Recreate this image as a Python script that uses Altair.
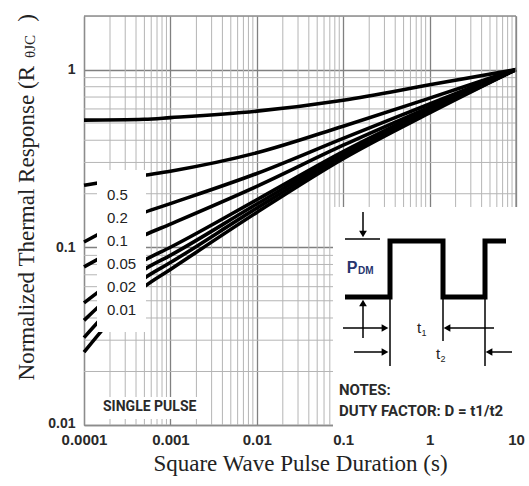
import altair as alt
import pandas as pd

# ---------------- data ----------------
durations = [0.0001, 0.0005, 0.001, 0.01, 0.1, 1, 10]
resp_top = [0.519, 0.525, 0.536, 0.583, 0.672, 0.82, 1.0]
resp_d02 = [0.223, 0.254, 0.268, 0.34, 0.48, 0.69, 1.0]
resp_d01 = [0.107, 0.157, 0.176, 0.26, 0.41, 0.64, 1.0]
resp_d005 = [0.0775, 0.117, 0.135, 0.22, 0.375, 0.614, 1.0]
resp_d002 = [0.0486, 0.0845, 0.1, 0.185, 0.345, 0.6, 1.0]
resp_d001 = [0.0388, 0.075, 0.09, 0.175, 0.335, 0.59, 1.0]
resp_d0005 = [0.031, 0.067, 0.082, 0.166, 0.325, 0.58, 1.0]
resp_single = [0.0257, 0.06, 0.075, 0.157, 0.315, 0.57, 1.0]

series = {
    "c1": resp_top, "c2": resp_d02, "c3": resp_d01, "c4": resp_d005,
    "c5": resp_d002, "c6": resp_d001, "c7": resp_d0005, "c8": resp_single,
}
duty_labels = ["0.5", "0.2", "0.1", "0.05", "0.02", "0.01"]
x_ticks = [0.0001, 0.001, 0.01, 0.1, 1, 10]
y_ticks = [0.01, 0.1, 1]
decades_x = [0.0001, 0.001, 0.01, 0.1, 1]
decades_y = [0.01, 0.1]
minor_x = [m * d for d in decades_x for m in range(2, 10)]
minor_y = [m * d for d in decades_y for m in range(2, 10)]

# ---------------- layout ----------------
W, H = 432, 409
OX, OY = 84, 16
FRAME = "#8c8c8c"
NOTE_FONT = "Roboto"

rows = [dict(series=k, t=t, r=v) for k, vals in series.items() for t, v in zip(durations, vals)]
df = pd.DataFrame(rows)

xs = alt.Scale(type="log", domain=[0.0001, 10], nice=False)
ys = alt.Scale(type="log", domain=[0.01, 2], nice=False)


def P(col):
    return alt.X(col + ":Q", scale=None, axis=None)


def PY(col):
    return alt.Y(col + ":Q", scale=None, axis=None)


def absdf(records, xcols=("x", "x2"), ycols=("y", "y2")):
    d = pd.DataFrame(records)
    for c in xcols:
        if c in d:
            d[c] = d[c] - OX
    for c in ycols:
        if c in d:
            d[c] = d[c] - OY
    return d


# minor grid
gx = alt.Chart(pd.DataFrame({"t": minor_x})).mark_rule(color="#b5b5b5", strokeWidth=1).encode(
    x=alt.X("t:Q", scale=xs))
gy = alt.Chart(pd.DataFrame({"r": minor_y})).mark_rule(color="#b5b5b5", strokeWidth=1).encode(
    y=alt.Y("r:Q", scale=ys))

# frame (top and right)
frame = alt.Chart(pd.DataFrame([
    dict(x=0, y=0, x2=W, y2=0), dict(x=W, y=0, x2=W, y2=H)])).mark_rule(
    color=FRAME, strokeWidth=1.3).encode(x=P("x"), y=PY("y"), x2="x2:Q", y2="y2:Q")

lines = alt.Chart(df).mark_line(color="black", strokeWidth=3.6, interpolate="monotone").encode(
    x=alt.X("t:Q", scale=xs, axis=alt.Axis(
        values=x_ticks, format="~g", title="Square Wave Pulse Duration (s)",
        titleFont="Liberation Serif", titleFontSize=23, titleFontWeight="normal",
        titleColor="#222", titleBaseline="alphabetic", titleX=W / 2, titleY=45,
        labelFont="Liberation Sans", labelFontWeight="bold", labelFontSize=15,
        labelColor="#2a2a2a", labelPadding=7, labelFlush=False, ticks=False,
        domainColor=FRAME, domainWidth=1.3, grid=True, gridColor="#808080", gridWidth=1.3)),
    y=alt.Y("r:Q", scale=ys, axis=alt.Axis(
        values=y_ticks, format="~g", title=None,
        labelFont="Liberation Sans", labelFontWeight="bold", labelFontSize=14,
        labelColor="#2a2a2a", labelPadding=9, labelFlush=False, ticks=False,
        domainColor=FRAME, domainWidth=1.3, grid=True, gridColor="#808080", gridWidth=1.3,
        labelOffset={"condition": {"test": "datum.value < 0.02", "value": -2}, "value": 0})),
    detail="series:N",
)

# white boxes (label box, single-pulse box, inset)
boxes = alt.Chart(absdf([
    dict(x=97, y=170, x2=146, y2=332),
    dict(x=98, y=397, x2=205, y2=419),
    dict(x=333, y=207, x2=528, y2=428),
])).mark_rect(color="white").encode(x=P("x"), y=PY("y"), x2="x2:Q", y2="y2:Q")

# curve labels
lab_df = pd.DataFrame({"label": duty_labels})
lab_df["x"] = 107 - OX
lab_df["y"] = [195 - OY + 23 * i for i in range(len(duty_labels))]
labels = alt.Chart(lab_df).mark_text(
    font="Liberation Sans", fontSize=15, color="#222", align="left", baseline="middle").encode(
    x=P("x"), y=PY("y"), text="label:N")

single = alt.Chart(absdf([dict(x=103, y=407, s="SINGLE PULSE")])).mark_text(
    font=NOTE_FONT, fontWeight="bold", fontSize=14, color="#2a2a2a",
    align="left", baseline="middle").encode(x=P("x"), y=PY("y"), text="s:N")

notes = alt.Chart(absdf([dict(x=339, y=390, s="NOTES:"),
                         dict(x=339, y=411, s="DUTY FACTOR: D = t1/t2")])).mark_text(
    font=NOTE_FONT, fontWeight="bold", fontSize=15, color="#2a2a2a",
    align="left", baseline="middle").encode(x=P("x"), y=PY("y"), text="s:N")

# pulse waveform
pulse = alt.Chart(absdf([
    dict(x=345, y=297, o=0), dict(x=390, y=297, o=1), dict(x=390, y=241, o=2),
    dict(x=443, y=241, o=3), dict(x=443, y=297, o=4), dict(x=485, y=297, o=5),
    dict(x=485, y=241, o=6), dict(x=506, y=241, o=7)])).mark_line(
    color="black", strokeWidth=5, strokeJoin="miter").encode(
    x=P("x"), y=PY("y"), order="o:Q")

segs = alt.Chart(absdf([
    dict(x=345, y=239, x2=380, y2=239),
    dict(x=363, y=212, x2=363, y2=231),
    dict(x=363, y=306, x2=363, y2=338),
    dict(x=390, y=297, x2=390, y2=366),
    dict(x=443, y=297, x2=443, y2=341),
    dict(x=485, y=297, x2=485, y2=366),
    dict(x=343, y=328, x2=382, y2=328),
    dict(x=449, y=328, x2=494, y2=328),
    dict(x=354, y=352, x2=382, y2=352),
    dict(x=491, y=352, x2=512, y2=352),
])).mark_rule(color="black", strokeWidth=1.5).encode(x=P("x"), y=PY("y"), x2="x2:Q", y2="y2:Q")

heads = alt.Chart(absdf([
    dict(x=363, y=234, s="triangle-down"),
    dict(x=363, y=303, s="triangle-up"),
    dict(x=385, y=328, s="triangle-right"),
    dict(x=447, y=328, s="triangle-left"),
    dict(x=385, y=352, s="triangle-right"),
    dict(x=489, y=352, s="triangle-left"),
])).mark_point(filled=True, color="black", size=60, opacity=1).encode(
    x=P("x"), y=PY("y"), shape=alt.Shape("s:N", scale=None))

pdm_p = alt.Chart(absdf([dict(x=352, y=268, s="P")])).mark_text(
    font="Liberation Sans", fontWeight="bold", fontSize=16, color="#27356e",
    align="center", baseline="middle").encode(x=P("x"), y=PY("y"), text="s:N")
pdm_sub = alt.Chart(absdf([dict(x=358, y=271, s="DM")])).mark_text(
    font="Liberation Sans", fontWeight="bold", fontSize=10, color="#27356e",
    align="left", baseline="middle").encode(x=P("x"), y=PY("y"), text="s:N")

t_main = alt.Chart(absdf([dict(x=419, y=328, s="t"), dict(x=438, y=354, s="t")])).mark_text(
    font="Liberation Sans", fontSize=15, color="#222", align="center", baseline="middle").encode(
    x=P("x"), y=PY("y"), text="s:N")
t_sub = alt.Chart(absdf([dict(x=424, y=333, s="1"), dict(x=443, y=359, s="2")])).mark_text(
    font="Liberation Sans", fontSize=9, color="#222", align="center", baseline="middle").encode(
    x=P("x"), y=PY("y"), text="s:N")

# y-axis title with subscript
ytitle_main = alt.Chart(absdf([dict(x=27, y=66, s="Normalized Thermal Response (R")])).mark_text(
    font="Liberation Serif", fontSize=23, color="#222", angle=270, align="right",
    baseline="middle").encode(x=P("x"), y=PY("y"), text="s:N")
ytitle_sub = alt.Chart(absdf([dict(x=30, y=35, s="\u03b8JC")])).mark_text(
    font="Liberation Serif", fontSize=15, color="#222", angle=270, align="right",
    baseline="middle").encode(x=P("x"), y=PY("y"), text="s:N")
ytitle_end = alt.Chart(absdf([dict(x=27, y=14, s=")")])).mark_text(
    font="Liberation Serif", fontSize=23, color="#222", angle=270, align="right",
    baseline="middle").encode(x=P("x"), y=PY("y"), text="s:N")

chart = alt.layer(
    gx, gy, lines, frame, boxes, labels, single, notes, pulse, segs, heads,
    pdm_p, pdm_sub, t_main, t_sub, ytitle_main, ytitle_sub, ytitle_end,
).properties(
    width=W, height=H,
    autosize=alt.AutoSizeParams(type="none"),
    padding={"left": OX, "top": OY, "right": 529 - OX - W, "bottom": 486 - OY - H},
).configure_view(stroke=None).configure(background="white")

chart.save("out.html", embed_options={"renderer": "svg", "actions": False})
